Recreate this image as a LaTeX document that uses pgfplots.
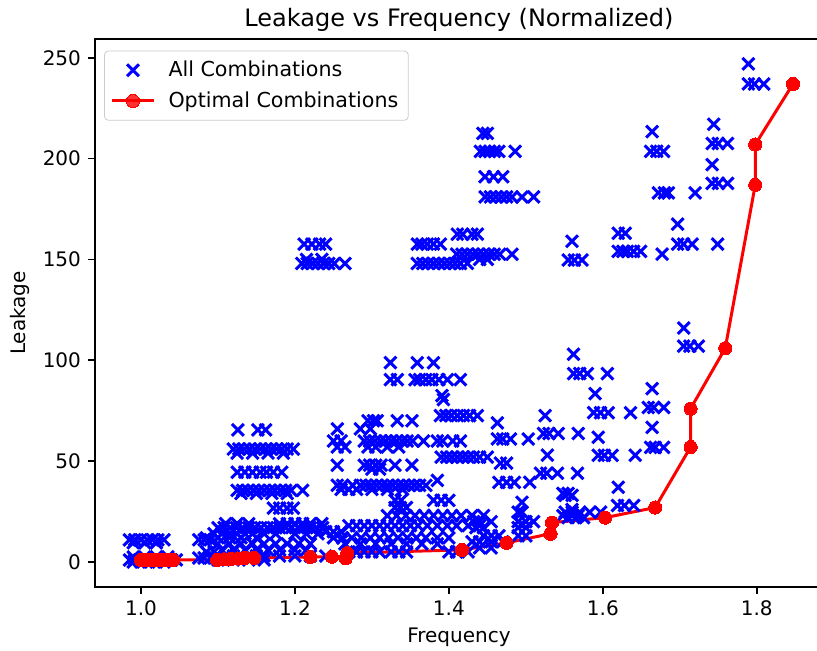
\documentclass[border=0pt]{standalone}
\usepackage{fontspec}
\setmainfont{DejaVu Sans}
\usepackage{pgfplots}
\pgfplotsset{compat=1.18}
\definecolor{mblue}{rgb}{0,0,1}
\definecolor{mred}{rgb}{1,0,0}
\begin{document}
\begin{tikzpicture}
\begin{axis}[
  scale only axis, width=364pt, height=274pt,
  xmin=0.9403, xmax=1.886, ymin=-12.4, ymax=259.3,
  axis line style={line width=0.8pt},
  tick style={line width=0.8pt, black},
  tick align=outside, major tick length=3.5pt,
  xtick pos=bottom, ytick pos=left,
  xtick={1.0,1.2,1.4,1.6,1.8},
  ytick={0,50,100,150,200,250},
  xticklabel style={/pgf/number format/.cd, fixed, fixed zerofill, precision=1},
  /pgf/number format/assume math mode=true,
  ticklabel style={font=\fontsize{10}{12}\selectfont},
  title={Leakage vs Frequency (Normalized)},
  title style={font=\fontsize{12}{14}\selectfont, at={(0.5,1)}, anchor=south, yshift=-6pt},
  xlabel={Frequency}, ylabel={Leakage},
  label style={font=\fontsize{10}{12}\selectfont},
  xlabel style={at={(axis description cs:0.5,0)}, anchor=center, yshift=-25.2pt},
  ylabel style={at={(axis description cs:0,0.5)}, anchor=center, yshift=37.5pt},
  legend cell align=left,
  legend style={at={(0,1)}, anchor=north west, xshift=4.5pt, yshift=-5.8pt,
    draw=black!20, fill=white, fill opacity=0.8, text opacity=1, rounded corners=2pt,
    font=\fontsize{10.3}{12.4}\selectfont, inner xsep=3pt, inner ysep=3pt, row sep=2pt,
    /tikz/every odd column/.append style={column sep=4.5pt}},
  legend image code/.code={\draw[mark repeat=2,mark phase=2] plot coordinates {(0cm,0cm) (0.37cm,0cm) (0.74cm,0cm)};},
]
\addplot[only marks, mark=x, mark size=4.2pt, mblue, line width=1.5pt] table {
0.985 11
0.992 11
1.000 11
1.008 11
1.015 11
1.022 11
1.030 11
0.990 9.5
1.005 9.5
1.020 9.5
0.985 1
0.992 1
0.998 1
1.004 1
1.010 1
1.016 1
1.022 1
1.028 1
1.034 1
1.040 1
1.046 1
0.990 0
1.000 0
1.010 0
1.020 0
1.030 0
0.990 2.5
1.005 2.5
1.020 2.5
1.035 2.5
1.075 11
1.082 11
1.090 11
1.075 2
1.082 2
1.090 2
1.096 2
1.085 5
1.095 5
1.095 14
1.126 65.5
1.152 65.5
1.162 65.5
1.120 56
1.127 56
1.134 56
1.141 56
1.148 56
1.155 56
1.162 56
1.169 56
1.176 56
1.183 56
1.190 56
1.198 56
1.125 54
1.145 54
1.165 54
1.185 54
1.125 44.5
1.135 44.5
1.145 44.5
1.155 44.5
1.163 44.5
1.172 44.5
1.183 44.5
1.125 35.5
1.132 35.5
1.139 35.5
1.146 35.5
1.153 35.5
1.160 35.5
1.167 35.5
1.174 35.5
1.181 35.5
1.188 35.5
1.195 35.5
1.210 35.5
1.130 34
1.150 34
1.170 34
1.190 34
1.172 26.7
1.180 26.7
1.190 26.7
1.198 26.7
1.110 19
1.125 19
1.140 19
1.180 19
1.190 19
1.200 19
1.210 19
1.220 19
1.235 19
1.100 17
1.108 17
1.116 17
1.124 17
1.132 17
1.140 17
1.148 17
1.156 17
1.164 17
1.172 17
1.180 17
1.188 17
1.196 17
1.204 17
1.212 17
1.220 17
1.228 17
1.236 17
1.105 14
1.115 14
1.125 14
1.135 14
1.145 14
1.160 14
1.175 14
1.200 14
1.215 14
1.230 14
1.240 15
1.250 15
1.260 15
1.085 12
1.100 12
1.115 12
1.130 12
1.150 12
1.100 9
1.115 9
1.130 9
1.145 9
1.160 9
1.175 9
1.190 9
1.205 9
1.220 9
1.105 6
1.120 6
1.135 6
1.150 6
1.165 6
1.180 6
1.200 6
1.215 6
1.100 3
1.110 3
1.120 3
1.130 3
1.140 3
1.150 3
1.160 3
1.180 3
1.200 3
1.220 3
1.240 3
1.100 1
1.120 1
1.140 1
1.160 1
1.212 157.6
1.222 157.6
1.232 157.6
1.240 157.6
1.209 148
1.216 148
1.223 148
1.230 148
1.237 148
1.244 148
1.251 148
1.265 148
1.215 150
1.235 150
1.324 98.8
1.359 98.8
1.380 98.8
1.324 90.4
1.333 90.4
1.356 90.4
1.362 90.4
1.370 90.4
1.378 90.4
1.387 90.4
1.398 90.4
1.415 90.4
1.391 82.5
1.393 80.5
1.389 72.6
1.396 72.6
1.403 72.6
1.411 72.6
1.419 72.6
1.427 72.6
1.437 72.6
1.295 70
1.302 70
1.307 70
1.333 70
1.352 70
1.255 66
1.285 66
1.298 66
1.250 60
1.260 60
1.290 60
1.297 60
1.304 60
1.311 60
1.318 60
1.325 60
1.332 60
1.339 60
1.346 60
1.353 60
1.367 60
1.385 60
1.392 60
1.405 60
1.415 60
1.255 57
1.265 57
1.295 57
1.305 57
1.320 57
1.335 57
1.390 52
1.397 52
1.404 52
1.411 52
1.418 52
1.425 52
1.432 52
1.440 52
1.450 52
1.255 48
1.290 48
1.297 48
1.305 48
1.312 48
1.330 48
1.352 48
1.300 46
1.310 46
1.255 38
1.262 38
1.275 38
1.285 38
1.292 38
1.299 38
1.306 38
1.313 38
1.320 38
1.327 38
1.334 38
1.341 38
1.348 38
1.355 38
1.362 38
1.370 38
1.385 40.5
1.260 36
1.270 36
1.280 36
1.300 36
1.320 36
1.340 36
1.330 30.6
1.338 30.6
1.380 30.6
1.390 30.6
1.400 30.6
1.330 27
1.337 27
1.345 27
1.320 23
1.332 23
1.344 23
1.356 23
1.368 23
1.380 23
1.392 23
1.404 23
1.416 23
1.430 23
1.445 23
1.270 18
1.280 18
1.290 18
1.300 18
1.310 18
1.320 18
1.330 18
1.340 18
1.350 18
1.360 18
1.372 18
1.385 18
1.398 18
1.410 18
1.425 18
1.440 18
1.250 12
1.262 12
1.274 12
1.286 12
1.298 12
1.310 12
1.322 12
1.334 12
1.346 12
1.358 12
1.370 12
1.385 12
1.400 12
1.265 9
1.285 9
1.305 9
1.325 9
1.345 9
1.365 9
1.385 9
1.270 5
1.280 5
1.290 5
1.300 5
1.310 5
1.325 5
1.335 5
1.345 5
1.400 5
1.410 5
1.359 157.6
1.365 157.6
1.372 157.6
1.380 157.6
1.389 157.6
1.411 162.5
1.418 162.5
1.430 162.5
1.437 162.5
1.410 152.6
1.417 152.6
1.424 152.6
1.431 152.6
1.438 152.6
1.445 152.6
1.452 152.6
1.459 152.6
1.466 152.6
1.482 152.6
1.359 148
1.366 148
1.373 148
1.380 148
1.387 148
1.394 148
1.401 148
1.408 148
1.415 148
1.424 148
1.440 150
1.450 150
1.444 212.5
1.450 212.5
1.441 203.6
1.447 203.6
1.453 203.6
1.459 203.6
1.465 203.6
1.486 203.6
1.447 191
1.458 191
1.470 191
1.447 181
1.454 181
1.461 181
1.468 181
1.475 181
1.482 181
1.495 181
1.510 181
1.463 69
1.463 61
1.470 61
1.480 61
1.503 61
1.525 72.6
1.523 63.7
1.530 63.7
1.542 63.7
1.528 53
1.467 49
1.475 49
1.519 44
1.527 44
1.541 44
1.567 44
1.465 39.5
1.475 39.5
1.485 39.5
1.505 39.5
1.548 34
1.555 34
1.495 29.6
1.490 24.7
1.495 24.7
1.548 23
1.560 23
1.568 23
1.432 20
1.440 20
1.455 20
1.490 20
1.500 20
1.510 20
1.435 17
1.445 17
1.490 17
1.500 17
1.445 13
1.455 13
1.465 13
1.490 13
1.500 13
1.430 10
1.440 10
1.455 10
1.470 10
1.440 7
1.455 7
1.410 5
1.425 5
1.562 103
1.562 93.4
1.570 93.4
1.580 93.4
1.606 93.4
1.590 83.5
1.588 74
1.597 74
1.607 74
1.636 74
1.568 63.7
1.594 61.8
1.594 52.9
1.602 52.9
1.612 52.9
1.642 52.9
1.620 37
1.551 33
1.560 33
1.619 28
1.628 28
1.640 28
1.551 24.7
1.560 24.7
1.570 24.7
1.583 24.7
1.597 24.7
1.560 26
1.555 22
1.565 22
1.575 22
1.560 159
1.555 149.7
1.563 149.7
1.573 149.7
1.620 163
1.629 163
1.620 154
1.626 154
1.632 154
1.640 154
1.649 154
1.677 152.6
1.697 167.5
1.697 157.6
1.705 157.6
1.716 157.6
1.749 157.6
1.705 116
1.705 107
1.713 107
1.724 107
1.664 213.4
1.662 203.6
1.670 203.6
1.679 203.6
1.672 183
1.680 183
1.685 183
1.720 183
1.744 217
1.742 207.5
1.750 207.5
1.762 207.5
1.742 197
1.742 187.7
1.750 187.7
1.762 187.7
1.789 247
1.789 237
1.797 237
1.809 237
1.664 86
1.659 76.6
1.666 76.6
1.679 76.6
1.664 66.7
1.662 56.8
1.668 56.8
1.679 56.8
};
\addlegendentry{All Combinations}
\addplot[mred, line width=1.5pt, mark=*, mark size=3.3pt, mark options={fill=mred, draw=mred, line width=0pt}] table {
1.000 1.0
1.006 1.0
1.012 1.0
1.018 1.0
1.024 1.0
1.030 1.0
1.036 1.0
1.042 1.0
1.099 1.0
1.108 1.3
1.117 1.5
1.126 1.7
1.135 2.0
1.147 2.0
1.220 2.5
1.248 2.6
1.266 1.8
1.268 4.4
1.417 6.0
1.475 9.5
1.532 14
1.534 19.5
1.603 22
1.668 27
1.714 57
1.714 76
1.759 106
1.798 187
1.798 207
1.847 237
};
\addlegendentry{Optimal Combinations}
\end{axis}
\pgfresetboundingbox
\path[use as bounding box] (-47.5pt,-32pt) rectangle (361pt,293.5pt);
\end{tikzpicture}
\end{document}
